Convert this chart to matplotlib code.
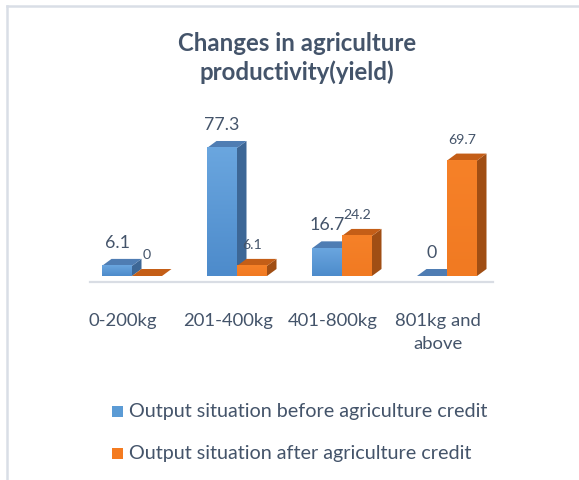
import matplotlib
matplotlib.use('Agg')
import matplotlib.pyplot as plt
from matplotlib.patches import Polygon, Rectangle
from matplotlib.lines import Line2D
import numpy as np

categories = ['0-200kg', '201-400kg', '401-800kg', '801kg and\nabove']
before = [6.1, 77.3, 16.7, 0]
after = [0, 6.1, 24.2, 69.7]
series_names = ['Output situation before agriculture credit',
                'Output situation after agriculture credit']
title_lines = ['Changes in agriculture', 'productivity(yield)']

FONT = 'Lato'
TXT = '#44546a'
plt.rcParams['font.family'] = [FONT, 'DejaVu Sans']

W, H = 579, 480
fig = plt.figure(figsize=(W / 100, H / 100), dpi=100)
ax = fig.add_axes([0, 0, 1, 1])

# pixel mapping
px_per_x = 105.0
x0px = 132.0
base_px = 276.0
px_per_y = 1.656
xlim = (-x0px / px_per_x, (W - x0px) / px_per_x)
ylim = ((base_px - H) / px_per_y, base_px / px_per_y)

bw = 30 / px_per_x
dx = 9.5 / px_per_x
dy = 7.0 / px_per_y

styles = {
    0: dict(front_top='#6aa6df', front_bot='#4d8bcb',
            side='#3d6796', top='#4f7db3', lab_size=12.8, lab_off=23),
    1: dict(front_top='#f68128', front_bot='#f17a22',
            side='#a04e14', top='#c45e17', lab_size=10.2, lab_off=21),
}


def draw_bar(x_left, h, st, zorder):
    xr = x_left + bw
    if h > 0:
        ax.add_patch(Polygon([(xr, 0), (xr + dx, dy), (xr + dx, h + dy), (xr, h)],
                             closed=True, facecolor=st['side'], edgecolor='none',
                             zorder=zorder))
    ax.add_patch(Polygon([(x_left, h), (x_left + dx, h + dy), (xr + dx, h + dy), (xr, h)],
                         closed=True, facecolor=st['top'], edgecolor='none',
                         zorder=zorder + 0.1))
    if h > 0:
        grad = np.linspace(0, 1, 64).reshape(-1, 1)
        c1 = np.array(matplotlib.colors.to_rgb(st['front_top']))
        c2 = np.array(matplotlib.colors.to_rgb(st['front_bot']))
        img = c1[None, None, :] * (1 - grad[:, :, None]) + c2[None, None, :] * grad[:, :, None]
        ax.imshow(img, extent=[x_left, xr, 0, h], aspect='auto', zorder=zorder + 0.2,
                  interpolation='bilinear')


# floor line
ax.add_line(Line2D([(90 - x0px) / px_per_x, (493 - x0px) / px_per_x],
                   [-(282 - base_px) / px_per_y] * 2, color='#d9dde4', lw=1.6, zorder=1))

for i in range(len(categories)):
    z = 2 + i * 2
    draw_bar(i - bw, before[i], styles[0], z)
    draw_bar(i, after[i], styles[1], z + 1)

for i in range(len(categories)):
    for s, vals in enumerate([before, after]):
        st = styles[s]
        xl = i - bw if s == 0 else i
        ax.annotate(f'{vals[i]:g}', (xl + bw / 2, vals[i]), xytext=(0, st['lab_off']),
                    textcoords='offset pixels', ha='center', va='center',
                    fontsize=st['lab_size'], color=TXT, zorder=50)

# category labels
for i, c in enumerate(categories):
    ax.text(i - 9 / px_per_x, -(313 - base_px) / px_per_y, c, ha='center', va='top',
            fontsize=13.3, color=TXT, linespacing=1.55,
            transform=ax.transData)

ax.set_xlim(*xlim)
ax.set_ylim(*ylim)
ax.axis('off')

# title
fig.text(297 / W, 1 - 51 / H, title_lines[0], ha='center', va='baseline',
         fontsize=17.3, fontweight='bold', color=TXT)
fig.text(297 / W, 1 - 80 / H, title_lines[1], ha='center', va='baseline',
         fontsize=17.3, fontweight='bold', color=TXT)

# legend
leg_cols = ['#5b9bd5', '#f47b20']
leg_y = [411.5, 453.5]
for col, name, y in zip(leg_cols, series_names, leg_y):
    fig.patches.append(Rectangle((112 / W, 1 - (y + 5.5) / H), 11 / W, 11 / H,
                                 transform=fig.transFigure, facecolor=col,
                                 edgecolor='none'))
    fig.text(129 / W, 1 - y / H, name, ha='left', va='center', fontsize=14.2, color=TXT)

# border
fig.add_artist(Line2D([7.5 / W, 7.5 / W], [0, 1 - 5.5 / H], transform=fig.transFigure,
                      color='#d9dee6', lw=1.8))
fig.add_artist(Line2D([7.5 / W, 578 / W], [1 - 5.5 / H, 1 - 5.5 / H],
                      transform=fig.transFigure, color='#d9dee6', lw=1.8))

fig.savefig('out.png', dpi=100, facecolor='white')
